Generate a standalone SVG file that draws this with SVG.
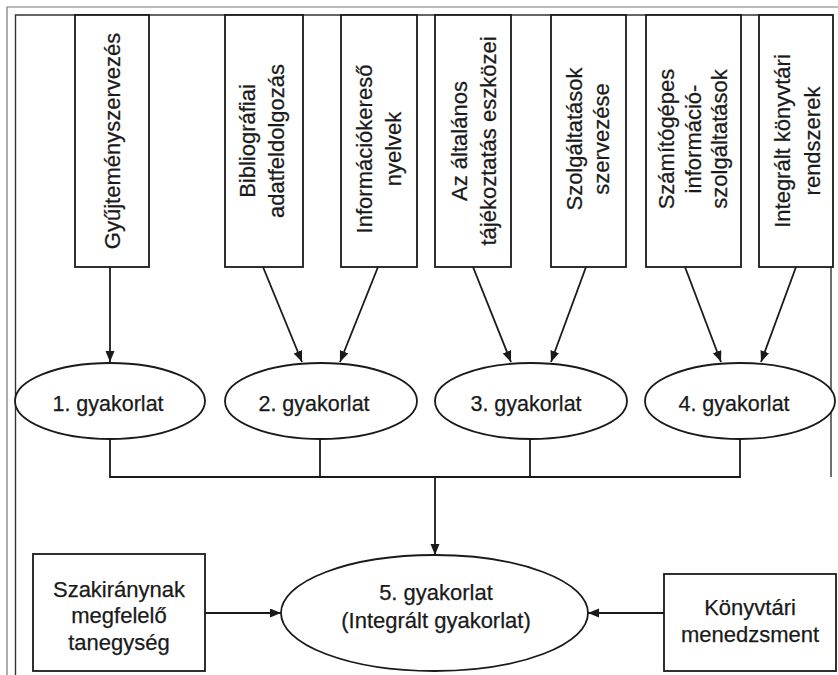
<svg xmlns="http://www.w3.org/2000/svg" width="838" height="675" viewBox="0 0 838 675">
<style>
.box{fill:#fff;stroke:#1a1a1a;stroke-width:1.8}
.ell{fill:#fff;stroke:#1a1a1a;stroke-width:1.8}
.ln{fill:none;stroke:#1a1a1a;stroke-width:1.8}
.frame{fill:none;stroke:#333;stroke-width:1.4}
.frame2{fill:none;stroke:#777;stroke-width:1.2}
text{font-family:"Liberation Sans",Arial,sans-serif;font-size:22px;fill:#1a1a1a;stroke:#1a1a1a;stroke-width:0.25;text-anchor:middle}
.e{font-size:21.5px}
</style>
<defs>
<marker id="ah" markerUnits="userSpaceOnUse" markerWidth="12" markerHeight="10" refX="11" refY="4.5" orient="auto">
<path d="M0,0 L11,4.5 L0,9 z" fill="#1a1a1a"/>
</marker>
</defs>
<rect width="838" height="675" fill="#fff"/>
<g id="frame">
<path class="frame2" d="M7,675 V7 H838"/>
<path class="frame" d="M15.5,675 V15 H831 V477"/>
</g>
<g id="n-gyujtemeny"><rect class="box" x="75" y="15" width="74" height="252"/>
<text transform="translate(112,141) rotate(-90)" y="8">Gyűjteményszervezés</text></g>
<g id="n-bibliografiai"><rect class="box" x="225" y="15" width="78" height="252"/>
<text transform="translate(262,141) rotate(-90)"><tspan x="0" y="-7">Bibliográfiai</tspan><tspan x="0" y="22">adatfeldolgozás</tspan></text></g>
<g id="n-informaciokereso"><rect class="box" x="341" y="15" width="76" height="252"/>
<text transform="translate(379,149) rotate(-90)"><tspan x="0" y="-7">Információkereső</tspan><tspan x="0" y="22">nyelvek</tspan></text></g>
<g id="n-altalanos"><rect class="box" x="435" y="15" width="76" height="252"/>
<text transform="translate(474,141) rotate(-90)"><tspan x="0" y="-7">Az általános</tspan><tspan x="0" y="22">tájékoztatás eszközei</tspan></text></g>
<g id="n-szolgaltatasok"><rect class="box" x="551" y="15" width="75" height="252"/>
<text transform="translate(588,139) rotate(-90)"><tspan x="0" y="-6">Szolgáltatások</tspan><tspan x="0" y="21">szervezése</tspan></text></g>
<g id="n-szamitogepes"><rect class="box" x="646" y="15" width="95" height="252"/>
<text transform="translate(693,139) rotate(-90)"><tspan x="0" y="-19">Számítógépes</tspan><tspan x="0" y="8">információ-</tspan><tspan x="0" y="34">szolgáltatások</tspan></text></g>
<g id="n-integralt"><rect class="box" x="759" y="15" width="74" height="252"/>
<text transform="translate(797,141) rotate(-90)"><tspan x="0" y="-7">Integrált könyvtári</tspan><tspan x="0" y="23">rendszerek</tspan></text></g>
<g id="n-gy1"><ellipse class="ell" cx="110" cy="401" rx="95" ry="38"/><text class="e" x="108" y="411">1. gyakorlat</text></g>
<g id="n-gy2"><ellipse class="ell" cx="321" cy="401" rx="96" ry="38"/><text class="e" x="314" y="411">2. gyakorlat</text></g>
<g id="n-gy3"><ellipse class="ell" cx="531" cy="401" rx="96" ry="38"/><text class="e" x="526" y="411">3. gyakorlat</text></g>
<g id="n-gy4"><ellipse class="ell" cx="740" cy="401" rx="95" ry="38"/><text class="e" x="734" y="411">4. gyakorlat</text></g>
<g id="n-gy5"><ellipse class="ell" cx="434.5" cy="613" rx="153.5" ry="58"/>
<text x="436" y="600">5. gyakorlat</text><text x="436" y="628">(Integrált gyakorlat)</text></g>
<g id="n-szakirany"><rect class="box" x="33" y="554" width="172" height="117"/>
<text x="119" y="597">Szakiránynak</text><text x="119" y="623">megfelelő</text><text x="119" y="650">tanegység</text></g>
<g id="n-menedzsment"><rect class="box" x="664" y="574" width="172" height="97"/>
<text x="750" y="615">Könyvtári</text><text x="750" y="642">menedzsment</text></g>
<g id="connectors">
<line class="ln" x1="110" y1="267" x2="110" y2="362" marker-end="url(#ah)"/>
<line class="ln" x1="263" y1="267" x2="302" y2="362" marker-end="url(#ah)"/>
<line class="ln" x1="378" y1="267" x2="340" y2="362" marker-end="url(#ah)"/>
<line class="ln" x1="473" y1="267" x2="511" y2="362" marker-end="url(#ah)"/>
<line class="ln" x1="586" y1="267" x2="551" y2="362" marker-end="url(#ah)"/>
<line class="ln" x1="685" y1="267" x2="721" y2="362" marker-end="url(#ah)"/>
<line class="ln" x1="796" y1="267" x2="761" y2="362" marker-end="url(#ah)"/>
<path class="ln" d="M110,439 V477 H740 V439 M320,439 V477 M530,439 V477"/>
<line class="ln" x1="435" y1="477" x2="435" y2="555" marker-end="url(#ah)"/>
<line class="ln" x1="205" y1="613" x2="281" y2="613" marker-end="url(#ah)"/>
<line class="ln" x1="664" y1="613" x2="588" y2="613" marker-end="url(#ah)"/>
</g>
</svg>
